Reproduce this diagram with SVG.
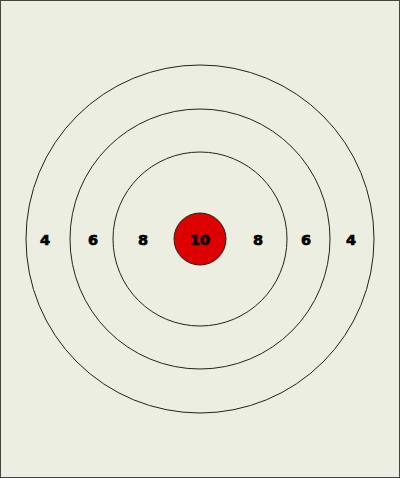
<svg xmlns="http://www.w3.org/2000/svg" width="400" height="478" viewBox="0 0 400 478">
<style>
.ring{fill:none;stroke:#222;stroke-width:1}
.lbl{font-family:"DejaVu Sans",sans-serif;font-weight:bold;font-size:14.5px;fill:#000;stroke:#000;stroke-width:0.7;text-anchor:middle;dominant-baseline:central}
</style>
<rect x="0.5" y="0.5" width="399" height="477" fill="#ECEEE1" stroke="#444" stroke-width="1"/>
<g id="ring4"><circle class="ring" cx="200" cy="239" r="174"/></g>
<g id="ring6"><circle class="ring" cx="200" cy="239" r="130"/></g>
<g id="ring8"><circle class="ring" cx="200" cy="239" r="87"/></g>
<g id="bull"><circle cx="200" cy="239" r="26" fill="#DD0000" stroke="#222" stroke-width="1"/><text class="lbl" x="200" y="240">10</text></g>
<g id="labels">
<text class="lbl" x="45" y="240">4</text>
<text class="lbl" x="93" y="240">6</text>
<text class="lbl" x="143" y="240">8</text>
<text class="lbl" x="258" y="240">8</text>
<text class="lbl" x="306" y="240">6</text>
<text class="lbl" x="351" y="240">4</text>
</g>
</svg>
